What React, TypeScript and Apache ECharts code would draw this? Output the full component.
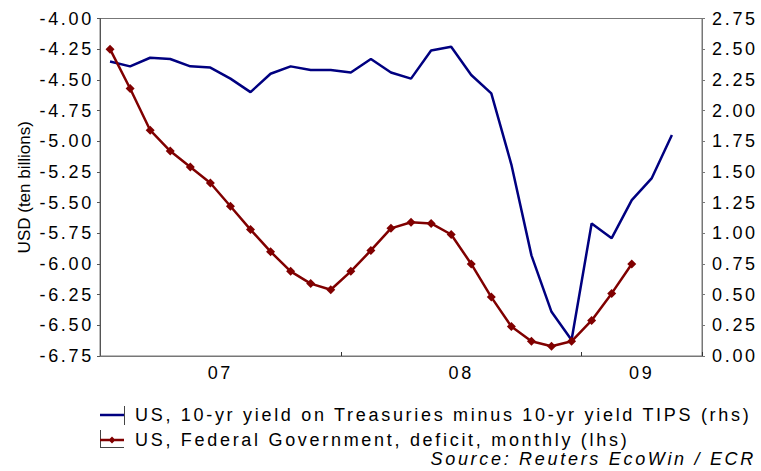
import { useEffect, useRef } from 'react';
import * as echarts from 'echarts';

// Monthly categories, Jan 2007 – Jun 2009
const months = [
  '2007-01', '2007-02', '2007-03', '2007-04', '2007-05', '2007-06',
  '2007-07', '2007-08', '2007-09', '2007-10', '2007-11', '2007-12',
  '2008-01', '2008-02', '2008-03', '2008-04', '2008-05', '2008-06',
  '2008-07', '2008-08', '2008-09', '2008-10', '2008-11', '2008-12',
  '2009-01', '2009-02', '2009-03', '2009-04', '2009-05', '2009-06',
];

// 10-yr Treasury yield minus 10-yr TIPS yield, % (right axis)
const yieldSpread = [
  2.4, 2.36, 2.43, 2.42, 2.36, 2.35, 2.26, 2.15, 2.3, 2.36,
  2.33, 2.33, 2.31, 2.42, 2.31, 2.26, 2.49, 2.52, 2.29, 2.14,
  1.56, 0.82, 0.36, 0.13, 1.08, 0.96, 1.27, 1.45, 1.8,
];

// Federal government monthly deficit, USD ten billions (left axis)
const deficit = [
  -4.25, -4.57, -4.91, -5.08, -5.21, -5.34, -5.53, -5.72, -5.9, -6.06,
  -6.16, -6.21, -6.06, -5.89, -5.71, -5.66, -5.67, -5.76, -6.0, -6.27,
  -6.51, -6.63, -6.67, -6.63, -6.46, -6.24, -6.0,
];

// Year labels, each shown under the middle of its year
const yearLabelMonths = ['2007-06', '2008-06', '2009-03'];
const yearLabelTexts = ['07', '08', '09'];
// Year boundaries get a tick mark
const yearStartMonths = ['2008-01', '2009-01'];

const seriesNames = [
  'US, 10-yr yield on Treasuries minus 10-yr yield TIPS (rhs)',
  'US, Federal Government, deficit, monthly (lhs)',
];
const sourceText = 'Source: Reuters EcoWin / ECR';
const leftAxisName = 'USD (ten billions)';

const BLUE = '#000080';
const RED = '#800000';
const AXIS = '#777777';
const FONT = 'Arial, Liberation Sans, sans-serif';

// Legend keys drawn in a 24 x 18 box: a plain stroke, and a stroke with a small diamond
const ICON_LINE = 'path://M0,7.75 L24,7.75 L24,10.25 L0,10.25 Z';
const ICON_LINE_DIAMOND =
  'path://M0,7.75 L24,7.75 L24,10.25 L0,10.25 Z M12,5.5 L15.5,9 L12,12.5 L8.5,9 Z';

export default function App() {
  const ref = useRef<HTMLDivElement>(null);

  useEffect(() => {
    if (!ref.current) return;
    const chart = echarts.init(ref.current, null, { renderer: 'svg' });

    chart.setOption({
      animation: false,
      backgroundColor: '#ffffff',
      textStyle: { fontFamily: FONT, color: '#000' },
      grid: {
        left: 100,
        right: 59,
        top: 18.5,
        bottom: 115,
        show: true,
        borderColor: AXIS,
        borderWidth: 1,
      },
      legend: {
        orient: 'vertical',
        left: 95,
        top: 401,
        itemWidth: 24,
        itemHeight: 18,
        itemGap: 7,
        selectedMode: false,
        textStyle: {
          fontFamily: FONT,
          fontSize: 18,
          color: '#000',
          padding: [0, 0, 0, 6],
        },
        data: [
          { name: seriesNames[0], icon: ICON_LINE, itemStyle: { color: BLUE } },
          { name: seriesNames[1], icon: ICON_LINE_DIAMOND, itemStyle: { color: RED } },
        ],
      },
      xAxis: {
        type: 'category',
        data: months,
        boundaryGap: true,
        axisLine: { show: true, lineStyle: { color: AXIS, width: 1 } },
        axisTick: {
          show: true,
          inside: true,
          length: 4,
          lineStyle: { color: '#333' },
          interval: (_i: number, v: string) => yearStartMonths.includes(v),
        },
        axisLabel: {
          interval: (_i: number, v: string) => yearLabelMonths.includes(v),
          formatter: (v: string) => {
            const k = yearLabelMonths.indexOf(v);
            return k >= 0 ? yearLabelTexts[k] : '';
          },
          fontFamily: FONT,
          fontSize: 18,
          color: '#000',
          margin: 8,
          padding: [0, 0, 0, 20],
        },
        splitLine: { show: false },
      },
      yAxis: [
        {
          type: 'value',
          position: 'left',
          min: -6.75,
          max: -4,
          interval: 0.25,
          name: leftAxisName,
          nameLocation: 'middle',
          nameGap: 67,
          nameRotate: 90,
          nameTextStyle: {
            fontFamily: 'Liberation Sans',
            fontSize: 17,
            color: '#000',
          },
          axisLine: { show: true, lineStyle: { color: '#555', width: 1 } },
          axisTick: { show: true, inside: false, length: 3, lineStyle: { color: '#555' } },
          axisLabel: {
            formatter: (v: number) => v.toFixed(2),
            fontFamily: FONT,
            fontSize: 18,
            color: '#000',
            margin: 6,
          },
          splitLine: { show: false },
        },
        {
          type: 'value',
          position: 'right',
          min: 0,
          max: 2.75,
          interval: 0.25,
          axisLine: { show: true, lineStyle: { color: AXIS, width: 1 } },
          axisTick: { show: true, inside: false, length: 3, lineStyle: { color: AXIS } },
          axisLabel: {
            formatter: (v: number) => v.toFixed(2),
            fontFamily: FONT,
            fontSize: 18,
            color: '#000',
            margin: 10,
          },
          splitLine: { show: false },
        },
      ],
      series: [
        {
          name: seriesNames[0],
          type: 'line',
          yAxisIndex: 1,
          data: yieldSpread,
          symbol: 'none',
          lineStyle: { color: BLUE, width: 2.5 },
          itemStyle: { color: BLUE },
        },
        {
          name: seriesNames[1],
          type: 'line',
          yAxisIndex: 0,
          data: deficit,
          symbol: 'diamond',
          symbolSize: 9,
          lineStyle: { color: RED, width: 2.5 },
          itemStyle: { color: RED },
        },
      ],
      graphic: [
        {
          type: 'line',
          shape: { x1: 124.5, y1: 406, x2: 124.5, y2: 425 },
          style: { stroke: '#444', lineWidth: 1 },
        },
        {
          type: 'line',
          shape: { x1: 100.5, y1: 430, x2: 100.5, y2: 448 },
          style: { stroke: '#444', lineWidth: 1 },
        },
        {
          type: 'line',
          shape: { x1: 100, y1: 447.5, x2: 124, y2: 447.5 },
          style: { stroke: '#444', lineWidth: 1 },
        },
        {
          type: 'text',
          x: 756,
          y: 459,
          style: {
            text: sourceText,
            fontFamily: FONT,
            fontStyle: 'italic',
            fontSize: 18,
            fill: '#000',
            align: 'right',
            verticalAlign: 'middle',
          },
        },
      ],
    });

    return () => chart.dispose();
  }, []);

  return (
    <>
      <style>{`.cht text[style*="Arial"], .cht text[font-family*="Arial"] { letter-spacing: 2.7px; }`}</style>
      <div
        ref={ref}
        className="cht"
        style={{ position: 'fixed', left: 0, top: 0, width: 761, height: 471 }}
      />
    </>
  );
}
